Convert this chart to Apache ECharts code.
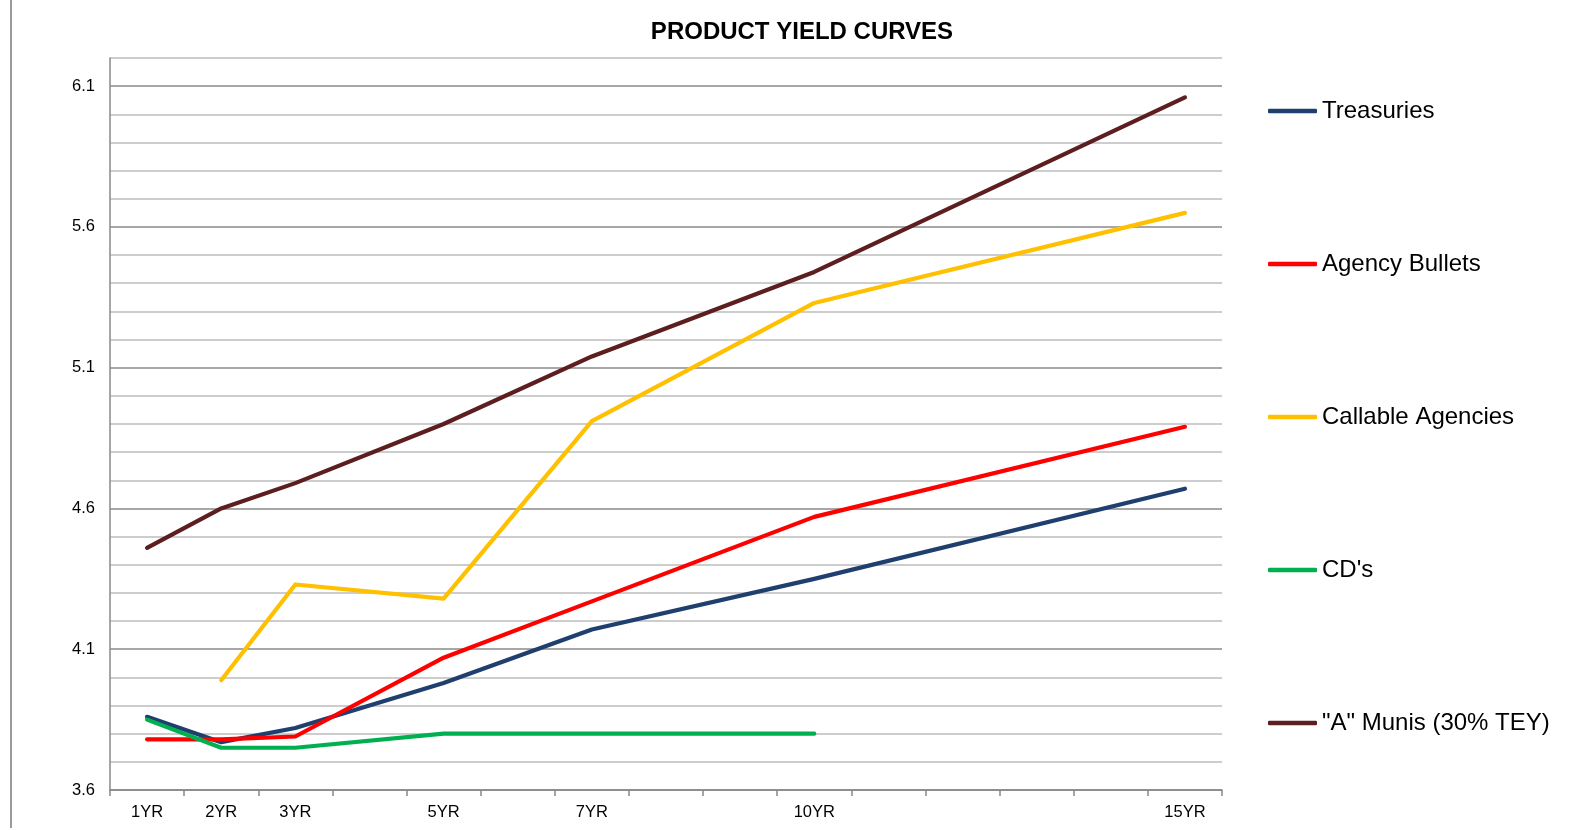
<!DOCTYPE html>
<html>
<head>
<meta charset="utf-8">
<title>Product Yield Curves</title>
<script src="https://cdn.jsdelivr.net/npm/echarts@6/dist/echarts.min.js"></script>
<style>
    html, body { margin: 0; padding: 0; background: #fff; }
    #main { width: 1570px; height: 830px; }
</style>
</head>
<body>
<div id="main"></div>
<script>
// maturities (one slot per year, only some are labelled / priced)
var years = [1, 2, 3, 4, 5, 6, 7, 8, 9, 10, 11, 12, 13, 14, 15];
var pricedYears = [1, 2, 3, 5, 7, 10, 15];

// yields at the priced maturities
var treasuries = [3.86, 3.77, 3.82, 3.98, 4.17, 4.35, 4.67];
var agencyBullets = [3.78, 3.78, 3.79, 4.07, 4.27, 4.57, 4.89];
var callableAgencies = [null, 3.99, 4.33, 4.28, 4.91, 5.33, 5.65];
var cds = [3.85, 3.75, 3.75, 3.80, 3.80, 3.80, null];
var munis = [4.46, 4.60, 4.69, 4.90, 5.14, 5.44, 6.06];

var seriesNames = ['Treasuries', 'Agency Bullets', 'Callable Agencies', "CD's", '"A" Munis (30% TEY)'];
var seriesColors = ['#1F3F6E', '#FF0000', '#FFC000', '#00B050', '#5C1E1E'];

var yMin = 3.6;
var yMax = 6.2;

var FONT = "'Liberation Sans', Arial, sans-serif";

var categories = years.map(function (y) { return y + 'YR'; });

// spread the priced values over the yearly slots
function toSlots(values) {
    return years.map(function (y) {
        var i = pricedYears.indexOf(y);
        return i < 0 ? null : values[i];
    });
}

var allValues = [treasuries, agencyBullets, callableAgencies, cds, munis];

var chart = echarts.init(document.getElementById('main'));

var option = {
    backgroundColor: '#fff',
    animation: false,
    title: {
        text: 'PRODUCT YIELD CURVES',
        left: 797,
        textAlign: 'center',
        top: 15,
        textStyle: {
            fontFamily: FONT,
            fontSize: 24,
            fontWeight: 'bold',
            color: '#000'
        }
    },
    graphic: [{
        type: 'line',
        shape: { x1: 11, y1: 0, x2: 11, y2: 828 },
        style: { stroke: '#9a9a9a', lineWidth: 2 }
    }],
    legend: {
        orient: 'vertical',
        left: 1263,
        top: 94,
        icon: 'roundRect',
        itemWidth: 49,
        itemHeight: 4.5,
        itemGap: 129,
        textStyle: {
            fontFamily: FONT,
            fontSize: 24,
            lineHeight: 24,
            color: '#000'
        },
        data: seriesNames
    },
    grid: {
        left: 110,
        right: 348,
        top: 58,
        bottom: 40
    },
    xAxis: {
        type: 'category',
        data: categories,
        boundaryGap: true,
        axisLine: { lineStyle: { color: '#888', width: 1.5 } },
        axisTick: { show: true, interval: 0, length: 6, lineStyle: { color: '#888', width: 1.5 } },
        axisLabel: {
            interval: 0,
            margin: 14,
            fontFamily: FONT,
            fontSize: 16.5,
            color: '#000',
            formatter: function (v, idx) {
                return pricedYears.indexOf(years[idx]) < 0 ? '' : v;
            }
        },
        splitLine: { show: false }
    },
    yAxis: {
        type: 'value',
        min: yMin,
        max: yMax,
        interval: 0.1,
        axisLine: { show: true, lineStyle: { color: '#888', width: 1.5 } },
        axisTick: { show: false },
        axisLabel: {
            margin: 15,
            fontFamily: FONT,
            fontSize: 16.5,
            color: '#000',
            formatter: function (v) {
                var k = (v - yMin) / 0.5;
                return Math.abs(k - Math.round(k)) < 1e-6 ? v.toFixed(1) : '';
            }
        },
        splitLine: {
            show: true,
            lineStyle: {
                color: ['#8a8a8a', '#bdbdbd', '#bdbdbd', '#bdbdbd', '#bdbdbd'],
                width: 1.5
            }
        }
    },
    series: seriesNames.map(function (name, i) {
        return {
            name: name,
            type: 'line',
            data: toSlots(allValues[i]),
            connectNulls: true,
            symbol: 'none',
            showSymbol: false,
            color: seriesColors[i],
            lineStyle: { width: 4.2, color: seriesColors[i], cap: 'round', join: 'round' }
        };
    })
};

chart.setOption(option);
</script>
</body>
</html>
